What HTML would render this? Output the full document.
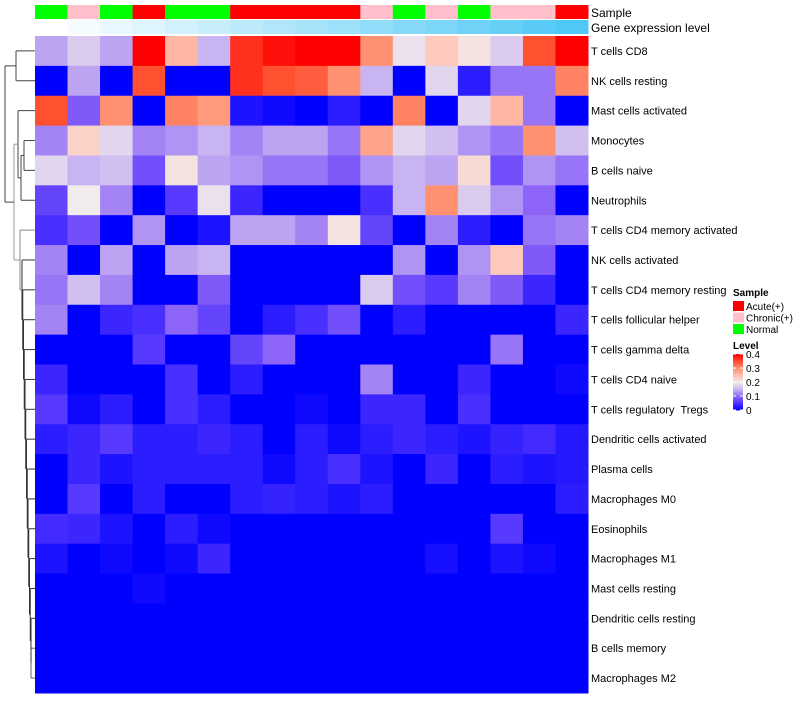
<!DOCTYPE html>
<html><head><meta charset="utf-8"><style>
body{margin:0;background:#fff;font-family:"Liberation Sans",sans-serif}
svg text{font-family:"Liberation Sans",sans-serif;white-space:pre}
</style></head><body>
<svg id="c" width="800" height="700" xmlns="http://www.w3.org/2000/svg"></svg>
<script>
const rowNames=["T cells CD8","NK cells resting","Mast cells activated","Monocytes","B cells naive","Neutrophils","T cells CD4 memory activated","NK cells activated","T cells CD4 memory resting","T cells follicular helper","T cells gamma delta","T cells CD4 naive","T cells regulatory  Tregs","Dendritic cells activated","Plasma cells","Macrophages M0","Eosinophils","Macrophages M1","Mast cells resting","Dendritic cells resting","B cells memory","Macrophages M2"];
const sampleGroups=["Normal","Chronic","Normal","Acute","Normal","Normal","Acute","Acute","Acute","Acute","Chronic","Normal","Chronic","Normal","Chronic","Chronic","Acute"];
const geneLevel=[0,1,2,3,4,5,6,7,8,9,10,11,12,13,14,15,16];
const values=[
[0.14,0.17,0.14,0.4,0.26,0.15,0.37,0.39,0.4,0.4,0.3,0.19,0.24,0.21,0.17,0.35,0.4],
[0,0.14,0,0.35,0,0,0.37,0.35,0.34,0.3,0.15,0,0.18,0.03,0.11,0.11,0.31],
[0.35,0.09,0.3,0,0.31,0.29,0.02,0.01,0,0.03,0,0.31,0,0.18,0.26,0.11,0],
[0.12,0.23,0.18,0.12,0.13,0.15,0.12,0.14,0.14,0.11,0.28,0.18,0.16,0.13,0.11,0.3,0.16],
[0.18,0.15,0.16,0.08,0.21,0.14,0.13,0.11,0.11,0.09,0.13,0.15,0.14,0.22,0.08,0.13,0.11],
[0.07,0.2,0.12,0,0.06,0.19,0.04,0,0,0,0.05,0.15,0.3,0.17,0.13,0.1,0],
[0.05,0.08,0,0.13,0,0.02,0.14,0.14,0.12,0.21,0.07,0,0.12,0.03,0,0.11,0.12],
[0.12,0,0.14,0,0.14,0.15,0,0,0,0,0,0.13,0,0.13,0.24,0.09,0],
[0.11,0.16,0.12,0,0,0.09,0,0,0,0,0.17,0.08,0.06,0.12,0.09,0.04,0],
[0.12,0,0.04,0.05,0.1,0.07,0,0.03,0.05,0.08,0,0.03,0,0,0,0,0.04],
[0,0,0,0.06,0,0,0.07,0.1,0,0,0,0,0,0,0.11,0,0],
[0.04,0,0,0,0.05,0,0.03,0,0,0,0.12,0,0,0.04,0,0,0.01],
[0.06,0.01,0.03,0,0.05,0.03,0,0,0.01,0,0.04,0.04,0,0.05,0,0,0],
[0.03,0.04,0.06,0.03,0.03,0.04,0.03,0,0.03,0.01,0.03,0.04,0.03,0.02,0.035,0.045,0.025],
[0,0.04,0.02,0.03,0.03,0.03,0.03,0.01,0.03,0.05,0.02,0,0.04,0,0.03,0.02,0.025],
[0,0.06,0,0.03,0,0,0.03,0.035,0.03,0.02,0.03,0,0,0,0,0,0.03],
[0.045,0.04,0.02,0,0.03,0.01,0,0,0,0,0,0,0,0,0.06,0,0],
[0.02,0,0.01,0,0.01,0.04,0,0,0,0,0,0,0.015,0,0.02,0.01,0],
[0,0,0,0.01,0,0,0,0,0,0,0,0,0,0,0,0,0],
[0,0,0,0,0,0,0,0,0,0,0,0,0,0,0,0,0],
[0,0,0,0,0,0,0,0,0,0,0,0,0,0,0,0,0],
[0,0,0,0,0,0,0,0,0,0,0,0,0,0,0,0,0]];
const levelTicks=[0,0.1,0.2,0.3,0.4];
const groupNames=["Acute","Chronic","Normal"];
const groupLabels=["Acute(+)","Chronic(+)","Normal"];
const groupColors={Acute:"#ff0000",Chronic:"#ffc0cb",Normal:"#00ff00"};

const NS="http://www.w3.org/2000/svg";
const svg=document.getElementById('c');
const X0=35,X1=588,Y0=36,Y1=693;
const nC=values[0].length,nR=values.length;
const cw=(X1-X0)/nC,rh=(Y1-Y0)/nR;
const xs=i=>X0+i*cw, ys=j=>Y0+j*rh;
const stops=[[0,[0,0,255]],[0.05,[74,48,255]],[0.1,[140,100,248]],[0.15,[200,180,240]],[0.2,[242,236,236]],[0.25,[255,192,176]],[0.3,[255,144,112]],[0.35,[255,80,48]],[0.4,[255,0,0]]];
function col(v){v=Math.max(0,Math.min(0.4,v));for(let k=1;k<stops.length;k++){if(v<=stops[k][0]){const a=stops[k-1],b=stops[k],t=(v-a[0])/(b[0]-a[0]);const c=a[1].map((x,i)=>Math.round(x+(b[1][i]-x)*t));return `rgb(${c})`;}}return 'rgb(255,0,0)';}
function mk(tag,attrs){const e=document.createElementNS(NS,tag);for(const k in attrs)e.setAttribute(k,attrs[k]);svg.appendChild(e);return e;}
sampleGroups.forEach((g,i)=>{const r=mk('rect',{x:xs(i),y:5,width:cw+0.5,height:14,fill:groupColors[g]});

});
const gmax=Math.max(...geneLevel);
geneLevel.forEach((g,i)=>{const t=g/gmax;const c=[255-(255-79)*t,255-(255-200)*t,255-(255-245)*t].map(Math.round);
const r=mk('rect',{x:xs(i),y:20,width:cw+0.5,height:14,fill:`rgb(${c})`});

});
let t=mk('text',{x:591,y:17,'font-size':12});t.textContent='Sample';

t=mk('text',{x:591,y:32,'font-size':12});t.textContent='Gene expression level';

values.forEach((row,j)=>{row.forEach((v,i)=>{const r=mk('rect',{x:xs(i),y:ys(j),width:cw+0.5,height:rh+0.5,fill:col(v)});

});
const l=mk('text',{x:591,y:ys(j)+rh/2+4,'font-size':11});l.textContent=rowNames[j];

});
const cy=j=>ys(j)+rh/2;
function seg(x1,y1,x2,y2,c){const e=mk('line',{x1,y1,x2,y2,stroke:c||'#444','stroke-width':1});}
function join(a,b,x,c){seg(x,a.y,x,b.y,c);seg(x,a.y,a.x,a.y,c);seg(x,b.y,b.x,b.y,c);return {x,y:(a.y+b.y)/2};}
const leaf=j=>({x:X0,y:cy(j)});
const A=join(leaf(0),leaf(1),16);
const B=join(leaf(3),leaf(4),24);
const C=join(B,leaf(5),21);
const D=join(leaf(2),C,18);
let E=join(leaf(20),leaf(21),31,'#666');
for(let j=19;j>=7;j--){E=join(leaf(j),E,31-(19-j)*0.75,'#333');}
E=join(leaf(6),E,20,'#888');
const F=join(D,E,14,'#999');
join(A,F,5);
function txt(s,x,y,sz,w,name){const e=mk('text',{x,y,'font-size':sz,'font-weight':w||'normal'});e.textContent=s;}
txt('Sample',733,296,10,'bold','legend-sample-title');
groupNames.forEach((g,i)=>{const r=mk('rect',{x:733,y:301+i*11.5,width:11,height:10,fill:groupColors[g]});


txt(groupLabels[i],746,310+i*11.5,10,'normal','legend-entry-label');});
txt('Level',733,349,10,'bold','legend-level-title');
const LT=354,LB=410;
const ly=v=>LB-(v/0.4)*(LB-LT);
for(let k=0;k<40;k++){const v=0.4*k/40;const r=mk('rect',{x:733,y:ly(v+0.01),width:10,height:(LB-LT)/40+0.5,fill:col(v+0.005)});

}
levelTicks.forEach(v=>{seg(733,ly(v),736,ly(v),'#fff');seg(740,ly(v),743,ly(v),'#fff');
txt(String(v),746,ly(v)+4,10,'normal','legend-tick-label');});
</script>
</body></html>
